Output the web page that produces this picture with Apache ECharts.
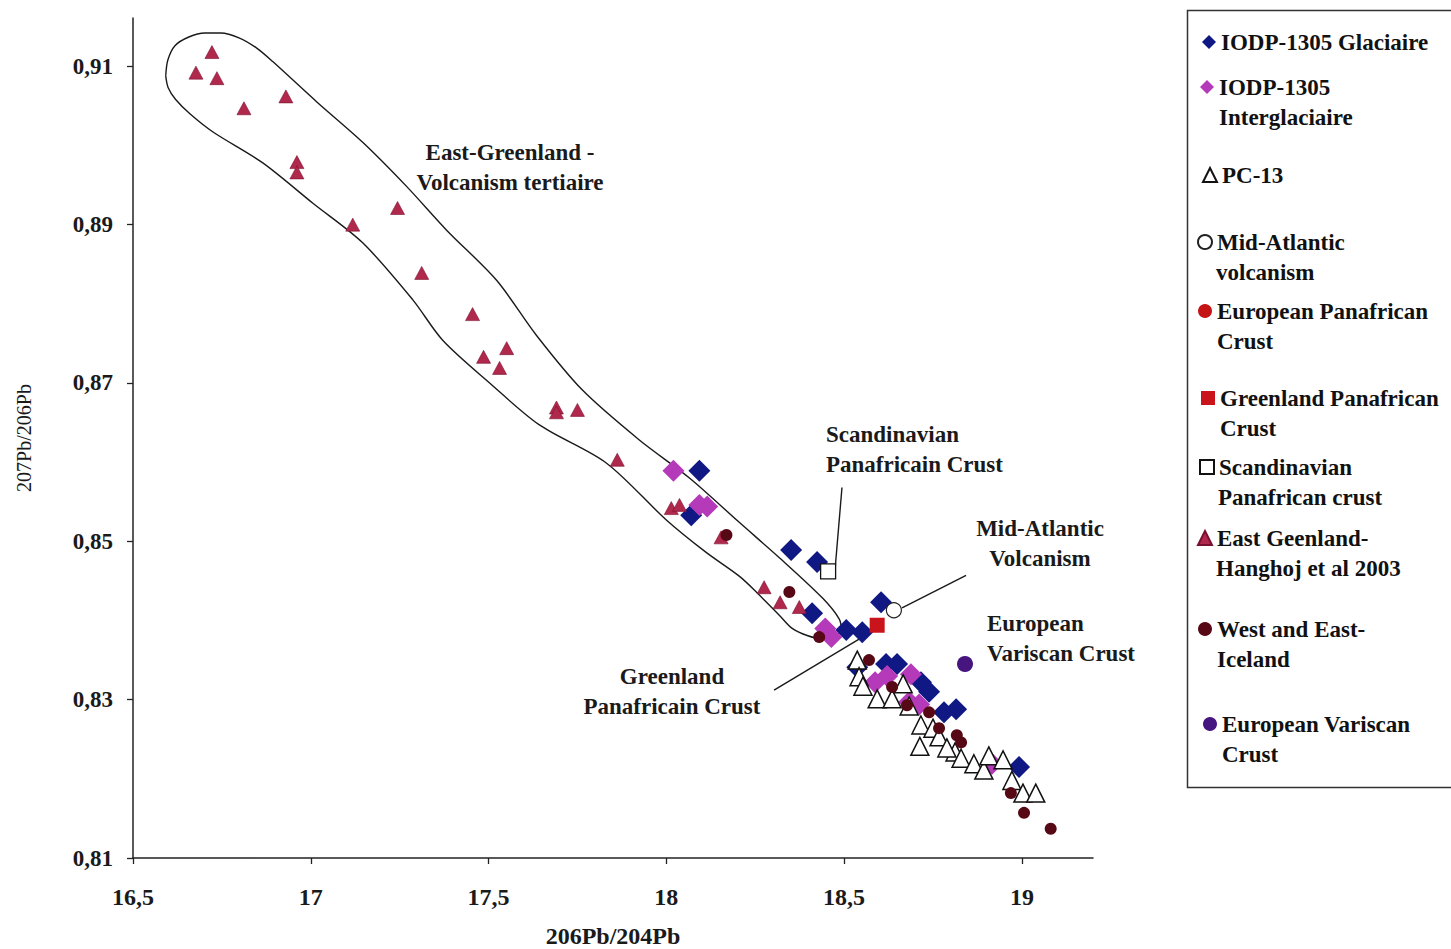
<!DOCTYPE html>
<html>
<head>
<meta charset="utf-8">
<script src="https://cdn.jsdelivr.net/npm/echarts@6/dist/echarts.min.js"></script>
<style>
html,body{margin:0;padding:0;background:#fff;}
#chart{width:1451px;height:949px;}
</style>
</head>
<body>
<div id="chart"></div>
<script>
// ---- tick labels ----
const xTicks = [16.5, 17, 17.5, 18, 18.5, 19];
const yTicks = [0.81, 0.83, 0.85, 0.87, 0.89, 0.91];

// ---- series data: [206Pb/204Pb, 207Pb/206Pb] ----
const iodpGlaciaire = [
  [18.093,0.8589],[18.070,0.8533],[18.351,0.8489],[18.424,0.8474],[18.410,0.8409],
  [18.506,0.8388],[18.551,0.8385],[18.604,0.8423],[18.537,0.8341],[18.618,0.8345],
  [18.649,0.8345],[18.716,0.8322],[18.739,0.8310],[18.781,0.8284],[18.815,0.8288],
  [18.992,0.8215]
];
const iodpInterglaciaire = [
  [18.020,0.8589],[18.093,0.8546],[18.115,0.8544],[18.447,0.8390],[18.464,0.8379],
  [18.587,0.8322],[18.621,0.8330],[18.688,0.8332],[18.683,0.8297],[18.711,0.8294],
  [18.916,0.8219]
];
const pc13 = [
  [18.537,0.8350],[18.542,0.8329],[18.553,0.8317],[18.593,0.8301],[18.635,0.8301],
  [18.666,0.8320],[18.683,0.8292],[18.716,0.8268],[18.713,0.8241],[18.750,0.8264],
  [18.767,0.8253],[18.812,0.8234],[18.829,0.8226],[18.865,0.8219],[18.893,0.8211],
  [18.907,0.8229],[18.947,0.8224],[18.972,0.8198],[19.003,0.8182],[19.039,0.8182],
  [18.789,0.8239]
];
const midAtlantic = [[18.640,0.8413]];
const europeanPanafrican = [];
const greenlandPanafrican = [[18.593,0.8394]];
const scandinavianPanafrican = [[18.455,0.8462]];
const eastGreenland = [
  [16.722,0.9118],[16.677,0.9092],[16.736,0.9085],[16.812,0.9047],[16.930,0.9062],
  [16.961,0.8979],[16.961,0.8966],[17.244,0.8921],[17.118,0.8900],[17.312,0.8839],
  [17.455,0.8787],[17.486,0.8733],[17.551,0.8744],[17.531,0.8719],[17.691,0.8669],
  [17.691,0.8663],[17.750,0.8666],[17.862,0.8603],[18.014,0.8542],[18.037,0.8546],
  [18.154,0.8505],[18.275,0.8442],[18.320,0.8423],[18.374,0.8417]
];
const iceland = [
  [18.169,0.8508],[18.346,0.8436],[18.430,0.8379],[18.570,0.8350],[18.635,0.8316],
  [18.677,0.8293],[18.739,0.8284],[18.767,0.8264],[18.817,0.8255],[18.829,0.8246],
  [18.969,0.8182],[19.006,0.8157],[19.081,0.8137]
];
const europeanVariscan = [[18.840,0.8345]];

// ---- hand-drawn envelope around the East-Greenland field ----
const envelope = [
  [16.592,0.9088],[16.598,0.9108],[16.618,0.9126],[16.657,0.9137],[16.702,0.9142],
  [16.747,0.9142],[16.798,0.9136],[16.848,0.9123],[16.893,0.9106],[17.017,0.9055],
  [17.146,0.9004],[17.270,0.8948],[17.382,0.8893],[17.522,0.8830],[17.635,0.8760],
  [17.764,0.8691],[17.924,0.8628],[18.065,0.8580],[18.205,0.8524],[18.326,0.8476],
  [18.440,0.8428],[18.486,0.8402],[18.492,0.8388],[18.472,0.8379],[18.435,0.8377],
  [18.396,0.8381],[18.354,0.8390],[18.317,0.8407],[18.253,0.8436],[18.205,0.8456],
  [18.112,0.8486],[18.000,0.8527],[17.831,0.8599],[17.643,0.8647],[17.503,0.8700],
  [17.371,0.8754],[17.287,0.8805],[17.146,0.8877],[17.006,0.8927],[16.865,0.8978],
  [16.725,0.9017],[16.660,0.9040],[16.620,0.9058],[16.599,0.9073],[16.592,0.9088]
];
// ---- annotation leader lines ----
const leaderScandinavian = [[18.494,0.8568],[18.475,0.8467]];
const leaderMidAtlantic = [[18.843,0.8457],[18.663,0.8416]];
const leaderGreenland = [[18.303,0.8312],[18.548,0.8378]];

const FONT = '"Liberation Serif", "Times New Roman", serif';

const seriesDefs = [
  {name:'IODP-1305 Glaciaire', line1:'IODP-1305 Glaciaire', line2:'', data:iodpGlaciaire, symbol:'diamond', size:22, style:{color:'#101884'}, top:42, left:1202},
  {name:'IODP-1305 Interglaciaire', line1:'IODP-1305', line2:'Interglaciaire', data:iodpInterglaciaire, symbol:'diamond', size:22, style:{color:'#b53ab9'}, top:87, left:1200},
  {name:'PC-13', line1:'PC-13', line2:'', data:pc13, symbol:'triangle', size:[18,18], style:{color:'#ffffff', borderColor:'#111', borderWidth:1.5}, top:175, left:1202},
  {name:'Mid-Atlantic volcanism', line1:'Mid-Atlantic', line2:'volcanism', data:midAtlantic, symbol:'circle', size:15, style:{color:'#ffffff', borderColor:'#222', borderWidth:1.2}, top:242, left:1197},
  {name:'European Panafrican Crust', line1:'European Panafrican', line2:'Crust', data:europeanPanafrican, symbol:'circle', size:14, style:{color:'#c41414'}, top:311, left:1198},
  {name:'Greenland Panafrican Crust', line1:'Greenland Panafrican', line2:'Crust', data:greenlandPanafrican, symbol:'rect', size:15, style:{color:'#c8141a'}, top:398, left:1201},
  {name:'Scandinavian Panafrican crust', line1:'Scandinavian', line2:'Panafrican crust', data:scandinavianPanafrican, symbol:'rect', size:15, style:{color:'#ffffff', borderColor:'#111', borderWidth:1.3}, top:467, left:1199},
  {name:'East Geenland-Hanghoj et al 2003', line1:'East Geenland-', line2:'Hanghoj et al 2003', data:eastGreenland, symbol:'triangle', size:[14,13], style:{color:'#b0284c', borderColor:'#7a1030', borderWidth:0.6}, top:538, left:1197},
  {name:'West and East-Iceland', line1:'West and East-', line2:'Iceland', data:iceland, symbol:'circle', size:12, style:{color:'#560914'}, top:629, left:1198},
  {name:'European Variscan Crust', line1:'European Variscan', line2:'Crust', data:europeanVariscan, symbol:'circle', size:16, style:{color:'#47157f'}, top:724, left:1203}
];

const LH = 30;
const LEG_FONT = 23;
const ICON = 14;
const line1Map = {};
seriesDefs.forEach(d => line1Map[d.name] = d.line1);

const legends = seriesDefs.map(d => ({
  data:[d.name],
  orient:'vertical',
  left:d.left,
  top:d.top - LH/2,
  padding:0,
  itemWidth:ICON,
  itemHeight:ICON,
  itemGap:0,
  selectedMode:false,
  formatter:n => line1Map[n],
  textStyle:{fontFamily:FONT, fontWeight:'bold', fontSize:LEG_FONT, color:'#111', lineHeight:LH}
}));

const legendSecondLines = seriesDefs.filter(d => d.line2).map(d => ({
  type:'text', x:d.left + ICON + 5, y:d.top + LH, silent:true,
  style:{text:d.line2, align:'left', verticalAlign:'middle', font:'bold ' + LEG_FONT + 'px ' + FONT, fill:'#111'}
}));

const scatterSeries = seriesDefs.map(d => ({
  name:d.name,
  type:'scatter',
  data:d.data,
  symbol:d.symbol,
  symbolSize:d.size,
  itemStyle:Object.assign({opacity:1}, d.style),
  emphasis:{disabled:true}
}));

function guide(data){
  return {type:'line', data:data, symbol:'none', silent:true, z:1,
    lineStyle:{color:'#1a1a1a', width:1.4}, emphasis:{disabled:true}, tooltip:{show:false}};
}
const envSeries = guide(envelope);
envSeries.smooth = 0.3;

const chart = echarts.init(document.getElementById('chart'), null, {renderer:'svg'});
const labelStyle = {font:'bold 23px ' + FONT, fill:'#1a1a1a', lineHeight:30};
chart.setOption({
  animation:false,
  backgroundColor:'#ffffff',
  grid:{left:133, right:358, top:18, bottom:91, containLabel:false, outerBoundsMode:'none'},
  legend:legends,
  xAxis:{
    type:'value', min:16.5, max:19.2, interval:0.5,
    name:'206Pb/204Pb', nameLocation:'middle', nameGap:66,
    nameTextStyle:{fontFamily:FONT, fontWeight:'bold', fontSize:24, color:'#1a1a1a'},
    axisLine:{show:true, lineStyle:{color:'#222', width:1.5}},
    axisTick:{show:true, length:6, inside:false, customValues:xTicks, lineStyle:{color:'#222', width:1.3}},
    axisLabel:{customValues:xTicks, margin:27, fontFamily:FONT, fontWeight:'bold', fontSize:24, color:'#1a1a1a',
      formatter:v => String(v).replace('.', ',')},
    splitLine:{show:false}
  },
  yAxis:{
    type:'value', min:0.81, max:0.9161, interval:0.02,
    name:'207Pb/206Pb', nameLocation:'middle', nameGap:99,
    nameTextStyle:{fontFamily:FONT, fontSize:20, color:'#1a1a1a'},
    axisLine:{show:true, lineStyle:{color:'#222', width:1.5}},
    axisTick:{show:true, length:6, inside:false, customValues:yTicks, lineStyle:{color:'#222', width:1.3}},
    axisLabel:{customValues:yTicks, margin:20, fontFamily:FONT, fontWeight:'bold', fontSize:23, color:'#1a1a1a',
      formatter:v => v.toFixed(2).replace('.', ',')},
    splitLine:{show:false}
  },
  graphic:[
    {type:'rect', left:1185, top:8, shape:{width:320, height:777}, style:{fill:'none', stroke:'#333', lineWidth:1.5}, silent:true},
    {type:'text', x:510, y:167, style:Object.assign({text:'East-Greenland -\nVolcanism tertiaire', align:'center', verticalAlign:'middle'}, labelStyle)},
    {type:'text', x:826, y:449, style:Object.assign({text:'Scandinavian\nPanafricain Crust', align:'left', verticalAlign:'middle'}, labelStyle)},
    {type:'text', x:1040, y:543, style:Object.assign({text:'Mid-Atlantic\nVolcanism', align:'center', verticalAlign:'middle'}, labelStyle)},
    {type:'text', x:987, y:638, style:Object.assign({text:'European\nVariscan Crust', align:'left', verticalAlign:'middle'}, labelStyle)},
    {type:'text', x:672, y:691, style:Object.assign({text:'Greenland\nPanafricain Crust', align:'center', verticalAlign:'middle'}, labelStyle)}
  ].concat(legendSecondLines),
  series:[envSeries, guide(leaderScandinavian), guide(leaderMidAtlantic), guide(leaderGreenland)].concat(scatterSeries)
});
</script>
</body>
</html>
